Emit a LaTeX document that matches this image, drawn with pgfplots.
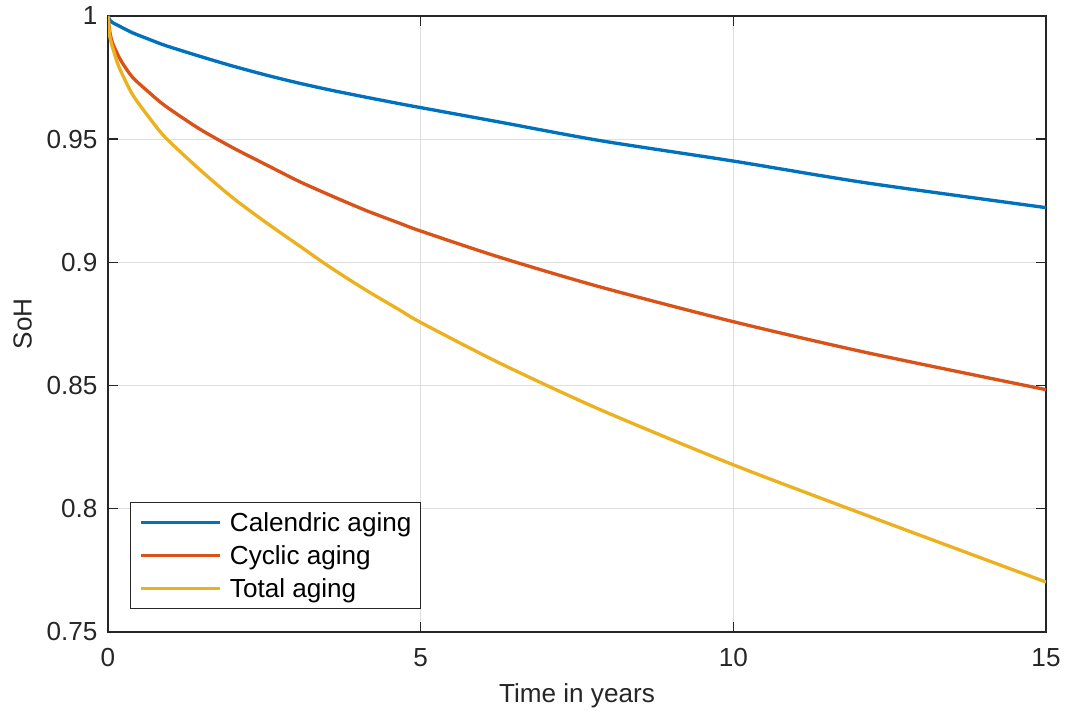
\documentclass[border=0pt]{standalone}
\usepackage{fontspec}
\setmainfont{Liberation Sans}
\usepackage{pgfplots}
\pgfplotsset{compat=1.18}
\definecolor{mblue}{rgb}{0,0.447,0.741}
\definecolor{mred}{rgb}{0.85,0.325,0.098}
\definecolor{myellow}{rgb}{0.929,0.694,0.125}
\definecolor{axgray}{rgb}{0.15,0.15,0.15}
\newcommand{\ff}{\fontsize{9.8pt}{11.5pt}\selectfont}
\begin{document}
\ff
\begin{tikzpicture}
\useasboundingbox (-40.53pt,-29.6pt) rectangle (359.5pt,237.1pt);
\begin{axis}[
  at={(0pt,0pt)}, anchor=south west,
  scale only axis, width=352pt, height=231.1pt,
  xmin=0, xmax=15, ymin=0.75, ymax=1,
  xtick={0,5,10,15}, xticklabels={0,5,10,15},
  ytick={0.75,0.8,0.85,0.9,0.95,1},
  yticklabels={0.75,0.8,0.85,0.9,0.95,1},
  grid=major,
  major grid style={line width=0.4pt, draw=black!13},
  tick align=inside, major tick length=3.6pt,
  axis line style={line width=0.6pt, draw=axgray},
  every tick/.style={line width=0.6pt, draw=axgray},
  ticklabel style={font=\ff, text=axgray},
  xticklabel style={anchor=base, yshift=-13.1pt},
  yticklabel style={xshift=-0.5pt},
  xlabel={Time in years}, ylabel={SoH},
  xlabel style={font=\ff, text=axgray, at={(axis description cs:0.5,-0.1151)}, anchor=base},
  ylabel style={font=\ff, text=axgray, at={(axis description cs:-0.0813,0.5)}, anchor=base, rotate=0},
  legend cell align=left,
  legend image code/.code={\draw[#1] (0pt,0pt) -- (29.6pt,0pt);},
  legend style={at={(axis description cs:0.0235,0.0373)}, anchor=south west,
    draw=axgray, line width=0.5pt, fill=white, font=\ff, text=black,
    inner xsep=3.4pt, inner ysep=2.4pt, row sep=2.4pt, column sep=3pt,
    nodes={inner sep=0pt, text height=8.5pt, text depth=1.5pt}},
  every axis plot/.append style={smooth, tension=0.45, line width=1.25pt},
]
\addplot[mblue] coordinates {
(0,1) (0.03,0.9983) (0.08,0.9972) (0.18,0.9959) (0.39,0.9932) (0.66,0.9905)
(0.92,0.9880) (1.46,0.9837) (1.99,0.9797) (2.53,0.9760) (3.06,0.9727)
(3.60,0.9697) (4.13,0.9670) (4.66,0.9644) (5.00,0.9628) (6.27,0.9569)
(7.87,0.9494) (10.0,0.9411) (12.14,0.9322) (15,0.9222)};
\addlegendentry{Calendric aging}
\addplot[mred] coordinates {
(0,1) (0.03,0.9935) (0.07,0.9892) (0.2,0.9822) (0.39,0.9752) (0.66,0.9689)
(0.92,0.9634) (1.46,0.9542) (1.99,0.9466) (2.53,0.9396) (3.06,0.9328)
(3.60,0.9267) (4.13,0.9210) (4.66,0.9159) (5.00,0.9127) (6.27,0.9020)
(7.87,0.8900) (10.0,0.8759) (12.14,0.8633) (15,0.8483)};
\addlegendentry{Cyclic aging}
\addplot[myellow] coordinates {
(0,1) (0.03,0.9915) (0.1,0.9850) (0.18,0.9790) (0.39,0.9682) (0.66,0.9587)
(0.92,0.9506) (1.46,0.9378) (1.99,0.9263) (2.53,0.9161) (3.06,0.9067)
(3.54,0.8982) (4.1,0.8891) (4.66,0.8807) (5.00,0.8756) (6.27,0.8590)
(7.87,0.8402) (10.0,0.8178) (12.14,0.7972) (15,0.7702)};
\addlegendentry{Total aging}
\end{axis}
\end{tikzpicture}
\end{document}
